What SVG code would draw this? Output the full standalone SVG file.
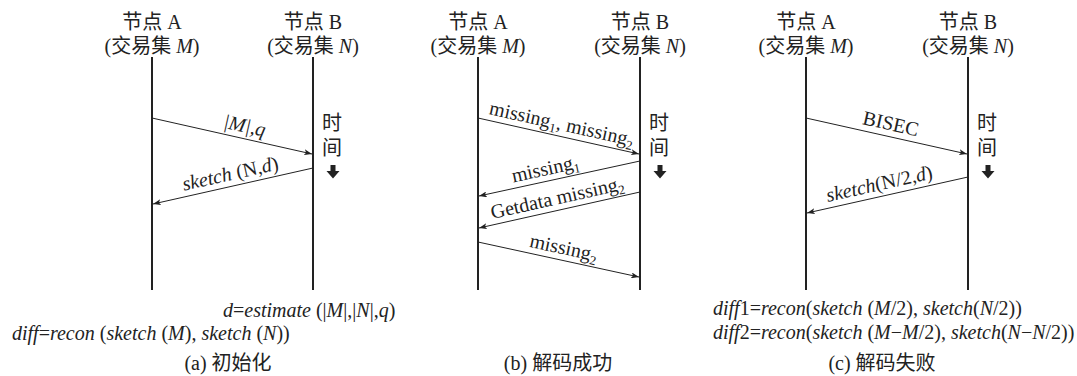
<svg xmlns="http://www.w3.org/2000/svg" width="1077" height="376" viewBox="0 0 1077 376">
<style>
text{font-family:"Liberation Serif","Noto Sans CJK SC",serif;font-size:20px;fill:#222}
.i{font-style:italic}
.mid{text-anchor:middle}
.life{stroke:#222;stroke-width:2;fill:none}
.msg{stroke:#222;stroke-width:1;fill:none;marker-end:url(#ah)}
.sub{font-size:13px}
</style>
<defs>
<marker id="ah" markerUnits="userSpaceOnUse" markerWidth="9" markerHeight="6" refX="8" refY="3" orient="auto">
<path d="M0,0 L8,3 L0,6 L2,3 z" fill="#222"/>
</marker>
<path id="blk" d="M-2.5,0 h5 v6 h4 l-6.5,7.5 l-6.5,-7.5 h4 z" fill="#222"/>
</defs>

<!-- Panel a -->
<g id="a-nodeA">
<text class="mid" x="152" y="29">节点 A</text>
<text class="mid" x="152" y="53">(交易集 <tspan class="i">M</tspan>)</text>
<line class="life" x1="152" y1="57" x2="152" y2="290"/>
</g>
<g id="a-nodeB">
<text class="mid" x="313" y="29">节点 B</text>
<text class="mid" x="313" y="53">(交易集 <tspan class="i">N</tspan>)</text>
<line class="life" x1="313" y1="57" x2="313" y2="290"/>
</g>
<g id="a-time">
<text class="mid" x="332" y="130">时</text>
<text class="mid" x="332" y="155">间</text>
<use href="#blk" x="333" y="165"/>
</g>
<g id="a-connectors">
<line class="msg" x1="152" y1="118" x2="312" y2="154"/>
<line class="msg" x1="313" y1="168" x2="153" y2="204"/>
<text class="mid" transform="translate(242,138) rotate(12.6)" y="-6"><tspan class="i">|M|,q</tspan></text>
<text class="mid" transform="translate(233,186) rotate(-12.6)" y="-6"><tspan class="i">sketch</tspan> (N,<tspan class="i">d</tspan>)</text>
</g>
<g id="a-notes">
<text x="223" y="317"><tspan class="i">d</tspan>=<tspan class="i">estimate</tspan> (|<tspan class="i">M</tspan>|,|<tspan class="i">N</tspan>|,<tspan class="i">q</tspan>)</text>
<text x="12" y="340"><tspan class="i">diff</tspan>=<tspan class="i">recon</tspan> (<tspan class="i">sketch</tspan> (<tspan class="i">M</tspan>), <tspan class="i">sketch</tspan> (<tspan class="i">N</tspan>))</text>
<text class="mid" x="228" y="370">(a) 初始化</text>
</g>

<!-- Panel b -->
<g id="b-nodeA">
<text class="mid" x="478" y="29">节点 A</text>
<text class="mid" x="478" y="53">(交易集 <tspan class="i">M</tspan>)</text>
<line class="life" x1="478" y1="57" x2="478" y2="290"/>
</g>
<g id="b-nodeB">
<text class="mid" x="640" y="29">节点 B</text>
<text class="mid" x="640" y="53">(交易集 <tspan class="i">N</tspan>)</text>
<line class="life" x1="640" y1="57" x2="640" y2="290"/>
</g>
<g id="b-time">
<text class="mid" x="659" y="130">时</text>
<text class="mid" x="659" y="155">间</text>
<use href="#blk" x="660" y="165"/>
</g>
<g id="b-connectors">
<line class="msg" x1="478" y1="118" x2="639" y2="154"/>
<line class="msg" x1="640" y1="161" x2="479" y2="196"/>
<line class="msg" x1="640" y1="192" x2="479" y2="228"/>
<line class="msg" x1="478" y1="242" x2="639" y2="277"/>
<text class="mid" transform="translate(559,136) rotate(12.6)" y="-6">missing<tspan class="sub" dy="4">1</tspan><tspan dy="-4">, missing</tspan><tspan class="sub" dy="4">2</tspan></text>
<text class="mid" transform="translate(548,181) rotate(-12.2)" y="-6">missing<tspan class="sub" dy="4">1</tspan></text>
<text class="mid" transform="translate(560,210) rotate(-12.6)" y="-6">Getdata missing<tspan class="sub" dy="4">2</tspan></text>
<text class="mid" transform="translate(561,260) rotate(12.2)" y="-6">missing<tspan class="sub" dy="4">2</tspan></text>
</g>
<g id="b-notes">
<text class="mid" x="558" y="370">(b) 解码成功</text>
</g>

<!-- Panel c -->
<g id="c-nodeA">
<text class="mid" x="806" y="29">节点 A</text>
<text class="mid" x="806" y="53">(交易集 <tspan class="i">M</tspan>)</text>
<line class="life" x1="806" y1="57" x2="806" y2="290"/>
</g>
<g id="c-nodeB">
<text class="mid" x="968" y="29">节点 B</text>
<text class="mid" x="968" y="53">(交易集 <tspan class="i">N</tspan>)</text>
<line class="life" x1="968" y1="57" x2="968" y2="290"/>
</g>
<g id="c-time">
<text class="mid" x="987" y="130">时</text>
<text class="mid" x="987" y="155">间</text>
<use href="#blk" x="988" y="165"/>
</g>
<g id="c-connectors">
<line class="msg" x1="806" y1="118" x2="967" y2="154"/>
<line class="msg" x1="968" y1="177" x2="807" y2="213"/>
<text class="mid" transform="translate(888,136) rotate(12.6)" y="-6">BISEC</text>
<text class="mid" transform="translate(882,196) rotate(-12.6)" y="-6"><tspan class="i">sketch</tspan>(N/2,<tspan class="i">d</tspan>)</text>
</g>
<g id="c-notes">
<text x="713" y="315"><tspan class="i">diff</tspan>1=<tspan class="i">recon</tspan>(<tspan class="i">sketch</tspan> (<tspan class="i">M</tspan>/2), <tspan class="i">sketch</tspan>(<tspan class="i">N</tspan>/2))</text>
<text x="713" y="339"><tspan class="i">diff</tspan>2=<tspan class="i">recon</tspan>(<tspan class="i">sketch</tspan> (<tspan class="i">M</tspan>−<tspan class="i">M</tspan>/2), <tspan class="i">sketch</tspan>(<tspan class="i">N</tspan>−<tspan class="i">N</tspan>/2))</text>
<text class="mid" x="882" y="370">(c) 解码失败</text>
</g>
</svg>
